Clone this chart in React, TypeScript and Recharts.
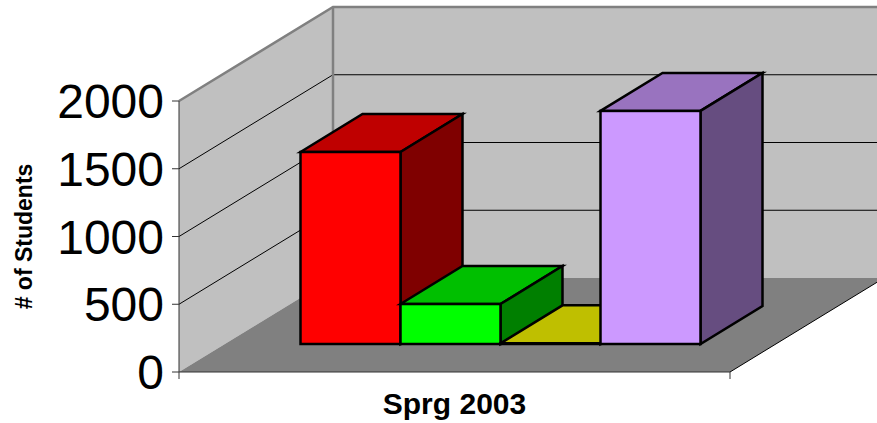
import React from "react";
import { BarChart, Bar, XAxis, YAxis, ReferenceArea } from "recharts";

const categories = ["Sprg 2003"];
const seriesNames = ["Red", "Green", "Yellow", "Purple"];
const redValues = [1417];
const greenValues = [295];
const yellowValues = [5];
const purpleValues = [1720];
const yTicks = [0, 500, 1000, 1500, 2000];
const yLabel = "# of Students";

const data = categories.map((category, i) => ({
  category,
  Red: redValues[i],
  Green: greenValues[i],
  Yellow: yellowValues[i],
  Purple: purpleValues[i],
}));

const palette: Record<string, { front: string; top: string; side: string }> = {
  Red: { front: "#FF0000", top: "#BF0000", side: "#7F0000" },
  Green: { front: "#00FF00", top: "#00BF00", side: "#007F00" },
  Yellow: { front: "#FFFF00", top: "#BFBF00", side: "#7F7F00" },
  Purple: { front: "#CC99FF", top: "#9973BF", side: "#664D80" },
};

const FONT = "'Liberation Sans', Arial, sans-serif";
const WALL_DX = 154;
const WALL_DY = 94;
const BAR_SHIFT_X = 45.5;
const BAR_SHIFT_Y = 28;
const BAR_DX = 62;
const BAR_DY = 38;

const pts = (p: number[][]) => p.map((q) => q.join(",")).join(" ");

function Room(props: any) {
  const { x, y, width, height } = props;
  const bottom = y + height;
  const right = x + width;
  const bx = x + WALL_DX;
  const top = y - WALL_DY;
  const floor = bottom - WALL_DY;
  const backRight = right + WALL_DX;
  return (
    <g>
      <polygon points={pts([[x, y], [bx, top], [bx, floor], [x, bottom]])} fill="#C0C0C0" />
      <rect x={bx} y={top} width={backRight - bx} height={height} fill="#C0C0C0" />
      <polygon points={pts([[x, bottom], [right, bottom], [backRight, floor], [bx, floor]])} fill="#808080" />
      {yTicks
        .filter((t) => t > 0 && t < 2000)
        .map((t) => {
          const ly = bottom - (height * t) / 2000;
          return (
            <g key={t}>
              <line x1={x} y1={ly} x2={bx} y2={ly - WALL_DY} stroke="#000" strokeWidth={1} />
              <line x1={bx} y1={ly - WALL_DY} x2={backRight} y2={ly - WALL_DY} stroke="#000" strokeWidth={1} />
            </g>
          );
        })}
      <polyline points={pts([[x, y], [bx, top], [backRight, top]])} fill="none" stroke="#808080" strokeWidth={2.5} />
      <line x1={bx} y1={top} x2={bx} y2={floor} stroke="#808080" strokeWidth={2.5} />
      <line x1={right} y1={bottom} x2={backRight} y2={floor} stroke="#000" strokeWidth={1} />
      <line x1={x} y1={bottom} x2={x} y2={bottom + 7} stroke="#333" strokeWidth={1} />
      <line x1={right} y1={bottom} x2={right} y2={bottom + 7} stroke="#333" strokeWidth={1} />
    </g>
  );
}

function Box(props: any) {
  const { x, y, width, height, name } = props;
  const c = palette[name];
  const fx = x + BAR_SHIFT_X;
  const fy = y - BAR_SHIFT_Y;
  const fr = fx + width;
  const fb = fy + height;
  const common = { stroke: "#000", strokeWidth: 2.5, strokeLinejoin: "miter" as const };
  return (
    <g>
      <polygon points={pts([[fx, fy], [fx + BAR_DX, fy - BAR_DY], [fr + BAR_DX, fy - BAR_DY], [fr, fy]])} fill={c.top} {...common} />
      <polygon points={pts([[fr, fy], [fr + BAR_DX, fy - BAR_DY], [fr + BAR_DX, fb - BAR_DY], [fr, fb]])} fill={c.side} {...common} />
      <rect x={fx} y={fy} width={width} height={height} fill={c.front} {...common} />
    </g>
  );
}

export default function App() {
  return (
    <div style={{ position: "absolute", left: 0, top: 0, width: 877, height: 423, overflow: "hidden" }}>
      <BarChart
        width={877}
        height={423}
        data={data}
        margin={{ top: 101, right: 147, bottom: 0, left: 0 }}
        barSize={100}
        barGap={0}
      >
        <ReferenceArea y1={0} y2={2000} ifOverflow="visible" shape={<Room />} />
        <XAxis
          dataKey="category"
          height={51}
          tickLine={false}
          axisLine={{ stroke: "#333", strokeWidth: 1 }}
          tickMargin={15}
          tick={{ fontFamily: FONT, fontSize: 30, fontWeight: 700, fill: "#000" }}
        />
        <YAxis
          width={179}
          domain={[0, 2000]}
          ticks={yTicks}
          interval={0}
          tickSize={7}
          tickMargin={8}
          axisLine={{ stroke: "#333", strokeWidth: 1 }}
          tickLine={{ stroke: "#333", strokeWidth: 1 }}
          tick={{ fontFamily: FONT, fontSize: 48, fill: "#000" }}
          label={{
            value: yLabel,
            angle: -90,
            position: "insideLeft",
            offset: 24,
            style: { fontFamily: FONT, fontSize: 23, fontWeight: 700, fill: "#000", textAnchor: "middle" },
          }}
        />
        {seriesNames.map((s) => (
          <Bar key={s} dataKey={s} isAnimationActive={false} shape={(p: any) => <Box {...p} name={s} />} />
        ))}
      </BarChart>
    </div>
  );
}
